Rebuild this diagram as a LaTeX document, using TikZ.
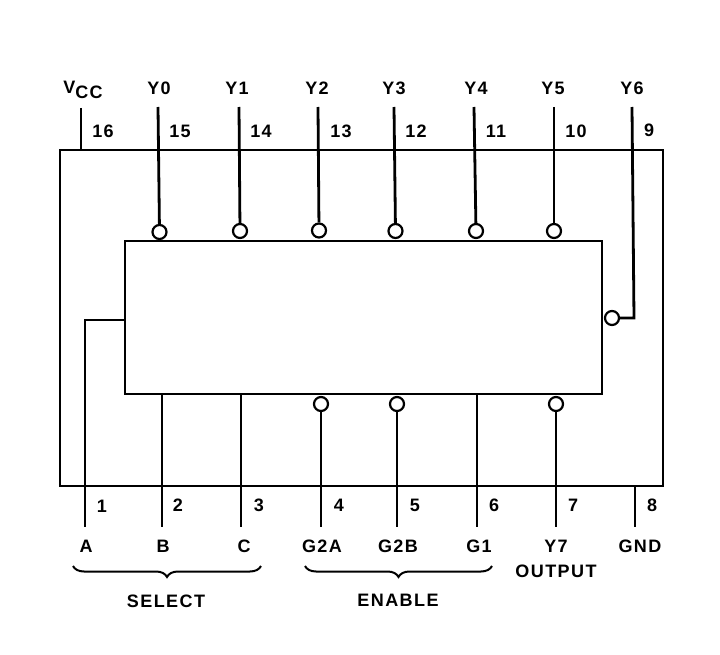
\documentclass[tikz,border=0pt]{standalone}
\usepackage{fontspec}
\setmainfont[LetterSpace=8]{Liberation Sans}
\usetikzlibrary{decorations.pathreplacing}
\tikzset{
    wire/.style={line width=2.8pt},
    bubble/.style={circle, draw, fill=white, line width=2.2pt, minimum size=14pt, inner sep=0pt},
    chipbox/.style={draw, line width=2.8pt, inner sep=0pt, anchor=north west},
    pinlabel/.style={inner sep=0pt, font=\fontsize{18}{20}\selectfont\bfseries},
    groupbrace/.style={line width=2pt, decorate, decoration={brace, mirror, amplitude=11pt, aspect=0.5}}
}

\begin{document}
\begin{tikzpicture}[x=1pt,y=-1pt]
    \useasboundingbox (0,0) rectangle (720,655);

    % draws package and decoder
    \node[chipbox, minimum width=603pt, minimum height=336pt] (package) at (58.6,148.6) {};
    \node[chipbox, minimum width=477pt, minimum height=153pt] (decoder) at (123.6,239.6) {};

    % draws bubbles
    \node[bubble] (y0bub) at (159.5,232) {};
    \node[bubble] (y1bub) at (240,231) {};
    \node[bubble] (y2bub) at (319,230.5) {};
    \node[bubble] (y3bub) at (395.5,231) {};
    \node[bubble] (y4bub) at (476,231) {};
    \node[bubble] (y5bub) at (554,231) {};
    \node[bubble] (y6bub) at (612,318) {};
    \node[bubble] (g2abub) at (321,404) {};
    \node[bubble] (g2bbub) at (397,404) {};
    \node[bubble] (y7bub) at (556,404) {};

    % free ends of the pins
    \coordinate (vcctop) at (81,108);
    \coordinate (vccend) at (81,150);
    \coordinate (y0top) at (158,107);
    \coordinate (y1top) at (239,107);
    \coordinate (y2top) at (318,107);
    \coordinate (y3top) at (394,107);
    \coordinate (y4top) at (474,107);
    \coordinate (y5top) at (554,107);
    \coordinate (y6top) at (632,107);
    \coordinate (y6turn) at (634,318);
    \coordinate (aout) at (125,320);
    \coordinate (aturn) at (85,320);
    \coordinate (aend) at (85,527);
    \coordinate (bout) at (162,394);
    \coordinate (bend) at (162,527);
    \coordinate (cout) at (241,394);
    \coordinate (cend) at (241,527);
    \coordinate (g2aend) at (321,527);
    \coordinate (g2bend) at (397,527);
    \coordinate (g1out) at (477,394);
    \coordinate (g1end) at (477,527);
    \coordinate (y7end) at (556,527);
    \coordinate (gndout) at (635,486);
    \coordinate (gndend) at (635,527);

    % draws pins
    \draw[wire] (vcctop) -- (vccend);
    \draw[wire] (y0top) -- (y0bub);
    \draw[wire] (y1top) -- (y1bub);
    \draw[wire] (y2top) -- (y2bub);
    \draw[wire] (y3top) -- (y3bub);
    \draw[wire] (y4top) -- (y4bub);
    \draw[wire] (y5top) -- (y5bub);
    \draw[wire] (y6top) -- (y6turn) -- (y6bub);
    \draw[wire] (aout) -- (aturn) -- (aend);
    \draw[wire] (bout) -- (bend);
    \draw[wire] (cout) -- (cend);
    \draw[wire] (g2abub) -- (g2aend);
    \draw[wire] (g2bbub) -- (g2bend);
    \draw[wire] (g1out) -- (g1end);
    \draw[wire] (y7bub) -- (y7end);
    \draw[wire] (gndout) -- (gndend);

    % labels top pins
    \node[pinlabel] (vcclabel) at (83,90) {V\raisebox{-5pt}{CC}};
    \node[pinlabel] (y0label) at (159,88) {Y0};
    \node[pinlabel] (y1label) at (237,88) {Y1};
    \node[pinlabel] (y2label) at (317,88) {Y2};
    \node[pinlabel] (y3label) at (394,88) {Y3};
    \node[pinlabel] (y4label) at (476,88) {Y4};
    \node[pinlabel] (y5label) at (553,88) {Y5};
    \node[pinlabel] (y6label) at (632,88) {Y6};
    \node[pinlabel] (pin16) at (103,131) {16};
    \node[pinlabel] (pin15) at (180,131) {15};
    \node[pinlabel] (pin14) at (261,131) {14};
    \node[pinlabel] (pin13) at (341,131) {13};
    \node[pinlabel] (pin12) at (416,131) {12};
    \node[pinlabel] (pin11) at (496,131) {11};
    \node[pinlabel] (pin10) at (576,131) {10};
    \node[pinlabel] (pin9) at (649,130) {9};

    % labels bottom pins
    \node[pinlabel] (pin1) at (102,506) {1};
    \node[pinlabel] (pin2) at (178,505) {2};
    \node[pinlabel] (pin3) at (259,505) {3};
    \node[pinlabel] (pin4) at (339,505) {4};
    \node[pinlabel] (pin5) at (415,505) {5};
    \node[pinlabel] (pin6) at (494,505) {6};
    \node[pinlabel] (pin7) at (573,505) {7};
    \node[pinlabel] (pin8) at (652,505) {8};
    \node[pinlabel] (alabel) at (86,546) {A};
    \node[pinlabel] (blabel) at (163,546) {B};
    \node[pinlabel] (clabel) at (244,546) {C};
    \node[pinlabel] (g2alabel) at (322,546) {G2A};
    \node[pinlabel] (g2blabel) at (398,546) {G2B};
    \node[pinlabel] (g1label) at (479,546) {G1};
    \node[pinlabel] (y7label) at (556,546) {Y7};
    \node[pinlabel] (gndlabel) at (640,546) {GND};
    \node[pinlabel] (outputlabel) at (556,571) {OUTPUT};

    % draws braces
    \coordinate (selstart) at (73,566);
    \coordinate (selend) at (261,566);
    \coordinate (enstart) at (305,566);
    \coordinate (enend) at (492,566);
    \draw[groupbrace] (selstart) -- (selend);
    \draw[groupbrace] (enstart) -- (enend);
    \node[pinlabel] (selectlabel) at (166,601) {SELECT};
    \node[pinlabel] (enablelabel) at (398,600) {ENABLE};
\end{tikzpicture}
\end{document}
